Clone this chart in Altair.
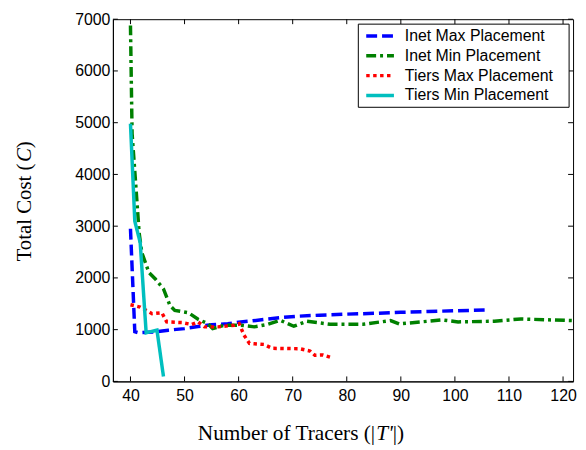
import altair as alt
import pandas as pd

names = ["Inet Max Placement", "Inet Min Placement", "Tiers Max Placement", "Tiers Min Placement"]
colors = ["#0000FF", "#008000", "#FF0000", "#00BFBF"]
dashes = [[11, 5], [10, 4, 3, 4], [3.5, 3.5], [1, 0]]

inet_max_x = [40, 40.8, 41.5, 44.5, 47, 50, 52.5, 55, 58, 60, 62.5, 65, 68, 71, 75, 80, 85, 90, 95, 100, 105.5]
inet_max_y = [2950, 960, 940, 955, 990, 1020, 1060, 1095, 1115, 1145, 1170, 1200, 1235, 1260, 1280, 1300, 1315, 1335, 1350, 1365, 1380]

inet_min_x = [40, 40.3, 41, 41.6, 42.1, 43.4, 44.6, 46.1, 47.3, 48.2, 50.7, 52.5, 54.3, 55.2, 57.4, 60.4,
              62.9, 65.3, 67.7, 70.2, 72.6, 76.9, 83, 88.1, 89.7, 97.6, 100.6, 107.3, 112.2, 121.8]
inet_min_y = [6880, 4790, 3770, 2874, 2490, 2107, 1980, 1788, 1469, 1373, 1328, 1200, 1117, 1022, 1085, 1085,
              1054, 1100, 1181, 1066, 1163, 1105, 1105, 1175, 1111, 1188, 1150, 1163, 1207, 1175]

tiers_max_x = [40, 41.8, 44, 45.8, 46.7, 49.5, 51.3, 52.5, 53.7, 56.2, 59.2, 60.1, 61, 62, 64.7, 66.2, 71.3, 73.2, 74.1, 75.6, 77.2]
tiers_max_y = [1481, 1437, 1309, 1328, 1150, 1137, 1100, 1150, 1054, 1054, 1085, 1117, 894, 734, 715, 639, 632, 588, 504, 511, 460]

tiers_min_x = [40, 40.8, 41.8, 42.9, 44.9, 46.1]
tiers_min_y = [4980, 3097, 2682, 940, 990, 96]

x_ticks = [40, 50, 60, 70, 80, 90, 100, 110, 120]
y_ticks = [0, 1000, 2000, 3000, 4000, 5000, 6000, 7000]

x_title_parts = ["Number of Tracers (|", "T'", "|)"]
y_title_parts = ["Total Cost (", "C", ")"]

W, H = 465, 366
XDOM = [36.75, 121.85]
YDOM = [0, 7000]

rows = []
for nm, xs, ys in [(names[0], inet_max_x, inet_max_y), (names[1], inet_min_x, inet_min_y),
                   (names[2], tiers_max_x, tiers_max_y), (names[3], tiers_min_x, tiers_min_y)]:
    for i, (a, b) in enumerate(zip(xs, ys)):
        rows.append({"series": nm, "x": a, "y": b, "i": i})
df = pd.DataFrame(rows)

color_enc = alt.Color("series:N", scale=alt.Scale(domain=names, range=colors), legend=None)
dash_enc = alt.StrokeDash("series:N", scale=alt.Scale(domain=names, range=dashes), legend=None)

xscale = alt.Scale(domain=XDOM, nice=False, zero=False)
yscale = alt.Scale(domain=YDOM, nice=False)

lines = alt.Chart(df).mark_line(strokeWidth=3.5, clip=True, strokeCap="butt").encode(
    x=alt.X("x:Q", scale=xscale, axis=alt.Axis(
        values=x_ticks, ticks=False, tickSize=0, grid=False, labelFont="Liberation Sans", labelFontSize=16,
        labelColor="black", labelPadding=6, domainColor="black", format="d", title=None)),
    y=alt.Y("y:Q", scale=yscale, axis=alt.Axis(
        values=y_ticks, ticks=False, tickSize=0, grid=False, labelFont="Liberation Sans", labelFontSize=16,
        labelColor="black", labelPadding=3, domainColor="black", format="d", title=None)),
    color=color_enc,
    strokeDash=dash_enc,
    order="i:Q",
)

xt = pd.DataFrame({"tx": x_ticks})
yt = pd.DataFrame({"ty": y_ticks})
tick_bottom = alt.Chart(xt).mark_rule(color="black", strokeWidth=1).encode(
    x=alt.X("tx:Q", scale=xscale), y=alt.value(H), y2=alt.value(H - 5))
tick_top = alt.Chart(xt).mark_rule(color="black", strokeWidth=1).encode(
    x=alt.X("tx:Q", scale=xscale), y=alt.value(0), y2=alt.value(5))
tick_left = alt.Chart(yt).mark_rule(color="black", strokeWidth=1).encode(
    y=alt.Y("ty:Q", scale=yscale), x=alt.value(0), x2=alt.value(5))
tick_right = alt.Chart(yt).mark_rule(color="black", strokeWidth=1).encode(
    y=alt.Y("ty:Q", scale=yscale), x=alt.value(W), x2=alt.value(W - 5))

one = pd.DataFrame({"k": [0]})
XF = dict(font="Liberation Serif", fontSize=21.5, color="black", baseline="middle", align="left")
YF = dict(font="Liberation Serif", fontSize=21, color="black", baseline="middle", align="left")
XT_Y = H + 53
xt1 = alt.Chart(one).mark_text(text=x_title_parts[0], **XF).encode(x=alt.value(85.8), y=alt.value(XT_Y))
xt2 = alt.Chart(one).mark_text(text=x_title_parts[1], fontStyle="italic", **XF).encode(x=alt.value(266.2), y=alt.value(XT_Y))
xt3 = alt.Chart(one).mark_text(text=x_title_parts[2], **XF).encode(x=alt.value(282.8), y=alt.value(XT_Y))
yt1 = alt.Chart(one).mark_text(text=y_title_parts[0], angle=270, **YF).encode(x=alt.value(-89), y=alt.value(244.7))
yt2 = alt.Chart(one).mark_text(text=y_title_parts[1], angle=270, fontStyle="italic", **YF).encode(x=alt.value(-89), y=alt.value(144.4))
yt3 = alt.Chart(one).mark_text(text=y_title_parts[2], angle=270, **YF).encode(x=alt.value(-89), y=alt.value(130.4))

main = alt.layer(lines, tick_bottom, tick_top, tick_left, tick_right, xt1, xt2, xt3, yt1, yt2, yt3)

leg_df = pd.DataFrame({"series": names})
leg_y = alt.Y("series:N", scale=alt.Scale(type="point", domain=names, range=[17, 77], padding=0), axis=None)
leg_box = alt.Chart(one).mark_rect(fill="white", stroke="black", strokeWidth=1).encode(
    x=alt.value(248), x2=alt.value(461), y=alt.value(5), y2=alt.value(89))
leg_sym = alt.Chart(leg_df).mark_rule(strokeWidth=3.5, strokeCap="butt").encode(
    x=alt.value(256), x2=alt.value(284), y=leg_y, color=color_enc, strokeDash=dash_enc)
leg_txt = alt.Chart(leg_df).mark_text(align="left", baseline="middle", font="Liberation Sans",
                                      fontSize=16, color="black").encode(
    x=alt.value(295), y=leg_y, text="series:N")
legend = alt.layer(leg_box, leg_sym, leg_txt)

chart = alt.layer(main, legend).resolve_scale(y="independent").properties(
    width=W, height=H,
    autosize=alt.AutoSizeParams(type="none"),
    padding={"left": 106, "top": 9, "right": 5, "bottom": 67},
    background="white",
).configure_view(stroke="black", strokeWidth=1)

chart.save("out.html", embed_options={"renderer": "svg", "actions": False})
